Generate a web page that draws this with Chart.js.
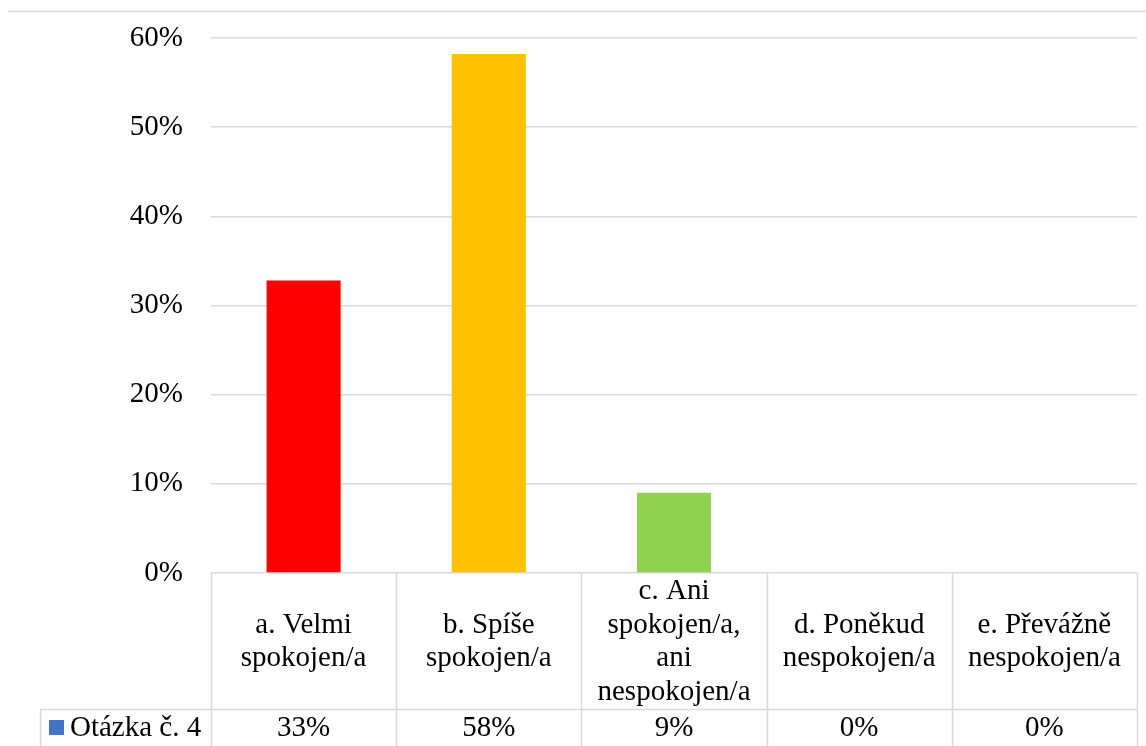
<!DOCTYPE html>
<html lang="cs">
<head>
<meta charset="UTF-8">
<title>Otázka č. 4</title>
<script src="https://cdn.jsdelivr.net/npm/chart.js@4.4.1/dist/chart.umd.min.js"></script>
<style>
  html, body { margin: 0; padding: 0; background: #fff; }
  #wrap { width: 1146px; height: 746px; position: relative; }
</style>
</head>
<body>
<div id="wrap"><canvas id="chart"></canvas></div>
<script>
// categories (each line of the label as a separate string)
const categories = [
  ['a. Velmi', 'spokojen/a'],
  ['b. Spíše', 'spokojen/a'],
  ['c. Ani', 'spokojen/a,', 'ani', 'nespokojen/a'],
  ['d. Poněkud', 'nespokojen/a'],
  ['e. Převážně', 'nespokojen/a']
];
const seriesName = 'Otázka č. 4';
const values = [32.8, 58.2, 9.0, 0, 0];
const yTicks = [0, 10, 20, 30, 40, 50, 60];

const FONT = '"Liberation Serif", "Times New Roman", serif';
const FSIZE = 29;
const lineCol = '#d9d9d9';

// draws the data table under the plot, like Excel does
const dataTable = {
  id: 'dataTable',
  afterDraw(chart) {
    const ctx = chart.ctx;
    const x = chart.scales.x;
    const area = chart.chartArea;
    const top = area.bottom;
    const rowY = 709;
    const bottom = chart.height;
    const half = (x.getPixelForValue(1) - x.getPixelForValue(0)) / 2;

    ctx.save();
    ctx.strokeStyle = lineCol;
    ctx.lineWidth = 1.5;

    // frame line at top of the chart
    ctx.beginPath();
    ctx.moveTo(8, 11.5);
    ctx.lineTo(chart.width, 11.5);
    ctx.stroke();

    // column borders
    ctx.beginPath();
    for (let i = 0; i <= categories.length; i++) {
      const px = Math.round(x.getPixelForValue(i) - half) + 0.5;
      ctx.moveTo(px, top);
      ctx.lineTo(px, bottom);
    }
    // row separator and legend cell
    ctx.moveTo(40, rowY + 0.5);
    ctx.lineTo(area.right, rowY + 0.5);
    ctx.moveTo(40.5, rowY);
    ctx.lineTo(40.5, bottom);
    ctx.stroke();

    ctx.fillStyle = '#000';
    ctx.font = FSIZE + 'px ' + FONT;
    ctx.textAlign = 'center';
    ctx.textBaseline = 'middle';
    const lh = 33.5;
    const mid = (top + rowY) / 2 + 1;
    categories.forEach((lines, i) => {
      const cx = x.getPixelForValue(i);
      const y0 = mid - (lines.length - 1) * lh / 2;
      lines.forEach((t, k) => ctx.fillText(t, cx, y0 + k * lh));
    });

    const vy = (rowY + bottom) / 2 + 1;
    chart.data.datasets[0].data.forEach((v, i) => {
      ctx.fillText(Math.round(v) + '%', x.getPixelForValue(i), vy);
    });

    // legend key
    ctx.fillStyle = '#4472C4';
    ctx.fillRect(49, 720, 15, 15);
    ctx.fillStyle = '#000';
    ctx.textAlign = 'left';
    ctx.fillText(seriesName, 70, vy);
    ctx.restore();
  }
};

new Chart(document.getElementById('chart'), {
  type: 'bar',
  data: {
    labels: categories,
    datasets: [{
      label: seriesName,
      data: values,
      backgroundColor: ['#FF0000', '#FFC000', '#92D050', '#4472C4', '#4472C4'],
      barPercentage: 0.4,
      categoryPercentage: 1.0
    }]
  },
  options: {
    responsive: true,
    maintainAspectRatio: false,
    animation: false,
    layout: { padding: { top: 38, right: 9, bottom: 165, left: 0 } },
    plugins: {
      legend: { display: false },
      tooltip: { enabled: false }
    },
    scales: {
      x: {
        ticks: { display: false },
        grid: { display: false },
        border: { display: false }
      },
      y: {
        min: 0,
        max: 60,
        afterBuildTicks: s => { s.ticks = yTicks.map(v => ({ value: v })); },
        afterFit: s => { s.width = 211; s.paddingTop = 0; s.paddingBottom = 0; },
        ticks: {
          padding: 28,
          color: '#000',
          font: { family: FONT, size: FSIZE },
          callback: v => v + '%'
        },
        grid: { color: lineCol, lineWidth: 1.5, drawTicks: false },
        border: { display: false }
      }
    }
  },
  plugins: [dataTable]
});
</script>
</body>
</html>
